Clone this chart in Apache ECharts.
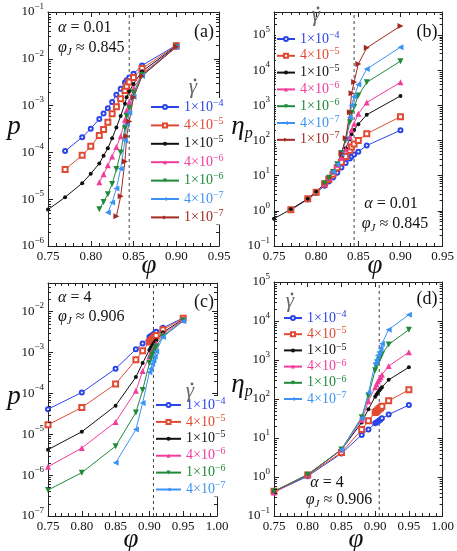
<!DOCTYPE html>
<html lang="en">
<head>
<meta charset="UTF-8">
<title>p and eta_p vs phi</title>
<script src="https://cdn.jsdelivr.net/npm/echarts@6/dist/echarts.min.js"></script>
<style>
  html, body { margin: 0; padding: 0; background: #fff; }
  #container { width: 457px; height: 551px; }
</style>
</head>
<body>
<div id="container"></div>
<script>
// shear rates, one entry per curve
var rateNames = ['1e-4', '4e-5', '1e-5', '4e-6', '1e-6', '4e-7', '1e-7'];
var rateLabels = [['1', '−4'], ['4', '−5'], ['1', '−5'], ['4', '−6'], ['1', '−6'], ['4', '−7'], ['1', '−7']];
var rateColors = ['#2b44e8', '#e04a33', '#111111', '#f23c9c', '#1f8a3a', '#3d93f5', '#a22a22'];

// alpha = 0.01 : panels (a) and (b)
var phi01 = [
  [0.77, 0.79, 0.80, 0.81, 0.815, 0.82, 0.825, 0.83, 0.835, 0.84, 0.842, 0.845, 0.85, 0.86, 0.90],
  [0.77, 0.79, 0.80, 0.81, 0.815, 0.82, 0.825, 0.83, 0.835, 0.84, 0.842, 0.845, 0.85, 0.86, 0.90],
  [0.75, 0.77, 0.79, 0.80, 0.81, 0.815, 0.82, 0.825, 0.83, 0.835, 0.84, 0.842, 0.845, 0.85, 0.86, 0.90],
  [0.81, 0.815, 0.82, 0.825, 0.83, 0.835, 0.84, 0.842, 0.845, 0.85, 0.86, 0.90],
  [0.81, 0.815, 0.82, 0.825, 0.83, 0.835, 0.84, 0.842, 0.845, 0.85, 0.86, 0.90],
  [0.82, 0.825, 0.83, 0.835, 0.84, 0.842, 0.845, 0.85, 0.86, 0.90],
  [0.83, 0.835, 0.84, 0.842, 0.845, 0.85, 0.86, 0.90]
];
var p01 = [
  [1.07e-4, 2.1e-4, 3.2e-4, 5.2e-4, 6.8e-4, 8.8e-4, 1.2e-3, 1.7e-3, 2.3e-3, 3.1e-3, 3.5e-3, 4.0e-3, 4.8e-3, 7.2e-3, 1.95e-2],
  [4.3e-5, 8.7e-5, 1.35e-4, 2.3e-4, 3.1e-4, 4.4e-4, 6.7e-4, 9.5e-4, 1.4e-3, 2.1e-3, 2.6e-3, 3.2e-3, 4.0e-3, 6.2e-3, 1.9e-2],
  [6e-6, 1.1e-5, 2.2e-5, 3.5e-5, 5.8e-5, 8.5e-5, 1.23e-4, 2.0e-4, 3.4e-4, 6e-4, 1.1e-3, 1.5e-3, 2.0e-3, 2.9e-3, 5.4e-3, 1.85e-2],
  [2.3e-5, 3.4e-5, 5.3e-5, 8.2e-5, 1.3e-4, 2.2e-4, 5e-4, 8e-4, 1.2e-3, 2.3e-3, 4.8e-3, 1.8e-2],
  [6.1e-6, 8.7e-6, 1.28e-5, 2.1e-5, 4.4e-5, 1e-4, 3.3e-4, 6e-4, 9e-4, 1.9e-3, 4.5e-3, 1.8e-2],
  [5.2e-6, 8.5e-6, 1.7e-5, 4.5e-5, 1.8e-4, 4e-4, 7e-4, 1.55e-3, 4.3e-3, 1.8e-2],
  [4.3e-6, 1.15e-5, 6.4e-5, 2.2e-4, 4.6e-4, 1.5e-3, 4.3e-3, 1.8e-2]
];
var eta01 = [
  [1.07, 2.1, 3.2, 5.2, 6.8, 8.8, 12, 17, 23, 31, 35, 40, 48, 72, 195],
  [1.08, 2.2, 3.4, 5.75, 7.8, 11, 16.8, 24, 35, 52, 65, 80, 100, 155, 475],
  [0.6, 1.1, 2.2, 3.5, 5.8, 8.5, 12.3, 20, 34, 60, 110, 150, 200, 290, 540, 1850],
  [5.75, 8.5, 13.2, 20.5, 32.5, 55, 125, 200, 300, 575, 1200, 4500],
  [6.1, 8.7, 12.8, 21, 44, 100, 330, 600, 900, 1900, 4500, 18000],
  [13, 21, 42, 112, 450, 1000, 1750, 3900, 10750, 45000],
  [43, 115, 640, 2200, 4600, 15000, 43000, 180000]
];

// alpha = 4 : panels (c) and (d)
var phi4 = [
  [0.75, 0.80, 0.85, 0.88, 0.89, 0.90, 0.902, 0.904, 0.906, 0.908, 0.91, 0.92, 0.95],
  [0.75, 0.80, 0.85, 0.88, 0.89, 0.90, 0.902, 0.904, 0.906, 0.908, 0.91, 0.92, 0.95],
  [0.75, 0.80, 0.85, 0.88, 0.89, 0.90, 0.902, 0.904, 0.906, 0.908, 0.91, 0.92, 0.95],
  [0.75, 0.80, 0.85, 0.88, 0.89, 0.90, 0.902, 0.904, 0.906, 0.908, 0.91, 0.92, 0.95],
  [0.75, 0.80, 0.85, 0.88, 0.89, 0.90, 0.902, 0.904, 0.906, 0.908, 0.91, 0.92, 0.95],
  [0.85, 0.88, 0.89, 0.90, 0.902, 0.904, 0.906, 0.908, 0.91, 0.92, 0.95]
];
var p4 = [
  [4.1e-5, 1.05e-4, 4e-4, 1.2e-3, 1.65e-3, 2.4e-3, 2.5e-3, 2.65e-3, 2.8e-3, 3.0e-3, 3.2e-3, 4.0e-3, 7.0e-3],
  [1.7e-5, 4.5e-5, 1.7e-4, 6.6e-4, 1.1e-3, 1.8e-3, 1.92e-3, 2.08e-3, 2.24e-3, 2.4e-3, 2.6e-3, 3.6e-3, 6.9e-3],
  [4.2e-6, 1.15e-5, 5e-5, 2.5e-4, 5.5e-4, 1.15e-3, 1.3e-3, 1.45e-3, 1.65e-3, 1.8e-3, 2.0e-3, 3.1e-3, 6.5e-3],
  [1.6e-6, 4.6e-6, 2e-5, 1.15e-4, 3.5e-4, 8e-4, 9.6e-4, 1.12e-3, 1.28e-3, 1.44e-3, 1.68e-3, 2.8e-3, 6.3e-3],
  [4.3e-7, 1.15e-6, 5.1e-6, 3.4e-5, 1.2e-4, 5.5e-4, 7e-4, 8.5e-4, 1e-3, 1.2e-3, 1.4e-3, 2.5e-3, 6e-3],
  [2e-6, 1.3e-5, 5.8e-5, 3.3e-4, 4e-4, 5.2e-4, 6.4e-4, 8e-4, 1.05e-3, 2.4e-3, 5.8e-3]
];
var eta4 = [
  [0.41, 1.05, 4.0, 12, 16.5, 24, 25, 26.5, 28, 30, 32, 40, 70],
  [0.43, 1.12, 4.25, 16.5, 27.5, 45, 48, 52, 56, 60, 65, 90, 172],
  [0.42, 1.15, 5.0, 25, 55, 115, 130, 145, 165, 180, 200, 310, 650],
  [0.40, 1.15, 5.0, 29, 88, 200, 240, 280, 320, 360, 420, 700, 1580],
  [0.43, 1.15, 5.1, 34, 120, 550, 700, 850, 1000, 1200, 1400, 2500, 6000],
  [5.0, 32, 145, 825, 1000, 1300, 1600, 2000, 2600, 6000, 14500]
];

// jamming fraction marked by the dashed line, per panel
var phiJ = [0.845, 0.845, 0.906, 0.906];

var SERIF = '"Liberation Serif", "DejaVu Serif", serif';
var symbols = ['emptyCircle', 'emptyRect', 'circle', 'triangle', 'triangle', 'triangle', 'triangle'];
var symbolRot = [0, 0, 0, 0, 180, 90, -90];
var symbolSz = [4, 5, 4, 6, 6, 6, 6];

var dom = document.getElementById('container');
var myChart = echarts.init(dom, null, { renderer: 'canvas' });

var grids = [
  { left: 48, top: 12, width: 171, height: 234 },
  { left: 274, top: 12, width: 179, height: 234 },
  { left: 48, top: 283, width: 169, height: 233 },
  { left: 274, top: 282, width: 179, height: 234 }
];
var xRange = [[0.75, 0.95], [0.75, 0.95], [0.75, 1.0], [0.75, 1.0]];
var yRange = [[1e-6, 0.1], [0.1, 4.5e5], [1e-7, 0.05], [0.1, 1e5]];

function powLabel(v) {
  var lg = Math.log10(v);
  var e = Math.round(lg);
  if (Math.abs(lg - e) > 1e-6) return '';
  return '{b|10}{s|' + (e < 0 ? '−' + (-e) : e) + '}';
}

var lineCol = '#222';
var xAxes = [], yAxes = [];
grids.forEach(function (g, i) {
  [false, true].forEach(function (mirror) {
    xAxes.push({
      type: 'value', gridIndex: i, min: xRange[i][0], max: xRange[i][1], interval: 0.05,
      position: mirror ? 'top' : 'bottom',
      axisLine: { show: true, onZero: false, lineStyle: { color: lineCol, width: 1 } },
      axisTick: { inside: true, length: 5, lineStyle: { color: lineCol } },
      minorTick: { show: true, splitNumber: 5, length: 3, lineStyle: { color: lineCol } },
      splitLine: { show: false },
      axisLabel: {
        show: !mirror, margin: 4, fontFamily: SERIF, fontSize: 13, color: '#111',
        formatter: function (v) { return v.toFixed(2); }
      }
    });
    yAxes.push({
      type: 'log', logBase: 10, gridIndex: i, min: yRange[i][0], max: yRange[i][1],
      position: mirror ? 'right' : 'left',
      axisLine: { show: true, onZero: false, lineStyle: { color: lineCol, width: 1 } },
      axisTick: { inside: true, length: 5, lineStyle: { color: lineCol } },
      minorTick: { show: false },
      splitLine: { show: false },
      axisLabel: {
        show: !mirror, margin: 4, formatter: powLabel,
        rich: {
          b: { fontFamily: SERIF, fontSize: 13, color: '#111', lineHeight: 20 },
          s: { fontFamily: SERIF, fontSize: 9, color: '#111', lineHeight: 8, verticalAlign: 'top' }
        }
      }
    });
  });
});

var series = [];

// log minor ticks (2..9 x 10^k) on left and right frame, placed through the y scale
function minorTicks(gi) {
  var vals = [];
  var lo = Math.floor(Math.log10(yRange[gi][0])), hi = Math.ceil(Math.log10(yRange[gi][1]));
  for (var e = lo; e <= hi; e++) {
    for (var m = 2; m <= 9; m++) {
      var v = m * Math.pow(10, e);
      if (v > yRange[gi][0] && v < yRange[gi][1]) vals.push([xRange[gi][0], v]);
    }
  }
  series.push({
    type: 'custom', name: 'ticks' + gi, xAxisIndex: 2 * gi, yAxisIndex: 2 * gi,
    silent: true, animation: false, z: 6, clip: false,
    encode: { x: 0, y: 1 },
    data: vals,
    renderItem: function (params, api) {
      var v = api.value(1);
      var l = api.coord([xRange[gi][0], v]);
      var r = api.coord([xRange[gi][1], v]);
      var y = Math.round(l[1]) + 0.5;
      return {
        type: 'group', children: [
          { type: 'line', shape: { x1: l[0], y1: y, x2: l[0] + 3, y2: y }, style: { stroke: lineCol, lineWidth: 1 } },
          { type: 'line', shape: { x1: r[0] - 3, y1: y, x2: r[0], y2: y }, style: { stroke: lineCol, lineWidth: 1 } }
        ]
      };
    }
  });
}

function addPanel(gi, phiList, valList) {
  // dashed vertical line at phi_J
  series.push({
    type: 'line', name: 'phiJ' + gi, xAxisIndex: 2 * gi, yAxisIndex: 2 * gi,
    data: [[phiJ[gi], yRange[gi][0]], [phiJ[gi], yRange[gi][1]]],
    symbol: 'none', silent: true, animation: false, z: 1,
    lineStyle: { type: [3, 3], color: '#444', width: 1 }
  });
  for (var k = 0; k < phiList.length; k++) {
    series.push({
      type: 'line', name: rateNames[k],
      xAxisIndex: 2 * gi, yAxisIndex: 2 * gi,
      data: phiList[k].map(function (x, j) { return [x, valList[k][j]]; }),
      symbol: symbols[k], symbolRotate: symbolRot[k], symbolSize: symbolSz[k],
      showAllSymbol: true,
      lineStyle: { width: 1, color: rateColors[k] },
      itemStyle: { color: rateColors[k], borderWidth: 1 },
      animation: false, z: 3
    });
  }
  minorTicks(gi);
}
addPanel(0, phi01, p01);
addPanel(1, phi01, eta01);
addPanel(2, phi4, p4);
addPanel(3, phi4, eta4);

// legends
function legendRich(lh) {
  var r = {};
  rateColors.forEach(function (c, i) {
    r['m' + i] = { fontFamily: SERIF, fontSize: 14, color: c, lineHeight: lh };
    r['s' + i] = { fontFamily: SERIF, fontSize: 10, color: c, lineHeight: 8, verticalAlign: 'top' };
  });
  return r;
}
function legendFmt(name) {
  var i = rateNames.indexOf(name);
  return '{m' + i + '|' + rateLabels[i][0] + '×10}{s' + i + '|' + rateLabels[i][1] + '}';
}
function mkLegend(n, left, top, w, lh, gap) {
  return {
    data: rateNames.slice(0, n), orient: 'vertical', left: left, top: top,
    itemWidth: w, itemHeight: 5, itemGap: gap, padding: 0,
    backgroundColor: '#fff', z: 8,
    selectedMode: false, formatter: legendFmt,
    textStyle: { rich: legendRich(lh) }
  };
}
var legends = [
  mkLegend(7, 150, 98, 28, 18, 2.4),
  mkLegend(7, 276, 30, 18, 18, 0.8),
  mkLegend(6, 155, 396, 25, 18, 0.9),
  mkLegend(6, 283, 309.5, 18, 17, 0.7)
];

// texts
var annRich = {
  i: { fontFamily: SERIF, fontSize: 16, fontStyle: 'italic', fill: '#111', lineHeight: 20 },
  n: { fontFamily: SERIF, fontSize: 16, fill: '#111', lineHeight: 20 },
  sub: { fontFamily: SERIF, fontSize: 11, fontStyle: 'italic', fill: '#111', lineHeight: 10, verticalAlign: 'bottom' }
};
function txt(x, y, text, align, rich) {
  return {
    type: 'text', x: x, y: y, z: 20,
    style: { text: text, rich: rich || annRich, align: align || 'left', verticalAlign: 'middle', fontFamily: SERIF, fontSize: 16, fill: '#111' }
  };
}
var bigRich = {
  i: { fontFamily: SERIF, fontSize: 27, fontStyle: 'italic', fill: '#111', lineHeight: 30 },
  sub: { fontFamily: SERIF, fontSize: 16, fontStyle: 'italic', fill: '#111', lineHeight: 14, verticalAlign: 'bottom' },
  l: { fontFamily: SERIF, fontSize: 18, fill: '#111', lineHeight: 22 },
  g: { fontFamily: SERIF, fontSize: 21, fontStyle: 'italic', fill: '#666', lineHeight: 24 }
};
// gamma with a dot drawn above it
function gammaDot(x, y) {
  return [
    txt(x, y, '{g|γ}', 'center', bigRich),
    { type: 'circle', z: 20, shape: { cx: x + 2, cy: y - 7, r: 1.4 }, style: { fill: '#666' } }
  ];
}
var graphics = [
  txt(58, 28, '{i|α}{n| = 0.01}'),
  txt(58, 48, '{i|φ}{sub|J}{n| ≈ 0.845}'),
  txt(204, 32, '{l|(a)}', 'center', bigRich),
  txt(391, 204, '{i|α}{n| = 0.01}', 'center'),
  txt(395, 224, '{i|φ}{sub|J}{n| ≈ 0.845}', 'center'),
  txt(427, 32, '{l|(b)}', 'center', bigRich),
  txt(58, 298, '{i|α}{n| = 4}'),
  txt(58, 317, '{i|φ}{sub|J}{n| ≈ 0.906}'),
  txt(204, 302, '{l|(c)}', 'center', bigRich),
  txt(327, 483, '{i|α}{n| = 4}', 'center'),
  txt(339, 500, '{i|φ}{sub|J}{n| ≈ 0.906}', 'center'),
  txt(427, 299, '{l|(d)}', 'center', bigRich),
  // axis names
  txt(14, 127, '{i|p}', 'center', bigRich),
  txt(242, 127, '{i|η}{sub|p}', 'center', bigRich),
  txt(14, 397, '{i|p}', 'center', bigRich),
  txt(242, 385, '{i|η}{sub|p}', 'center', bigRich),
  txt(149, 266, '{i|φ}', 'center', bigRich),
  txt(375, 266, '{i|φ}', 'center', bigRich),
  txt(131, 540, '{i|φ}', 'center', bigRich),
  txt(356, 540, '{i|φ}', 'center', bigRich)
].concat(gammaDot(193, 87), gammaDot(316, 15), gammaDot(190, 391), gammaDot(290, 301));

var option = {
  animation: false,
  backgroundColor: '#fff',
  grid: grids,
  xAxis: xAxes,
  yAxis: yAxes,
  legend: legends,
  series: series,
  graphic: graphics
};
myChart.setOption(option, true);
</script>
</body>
</html>
